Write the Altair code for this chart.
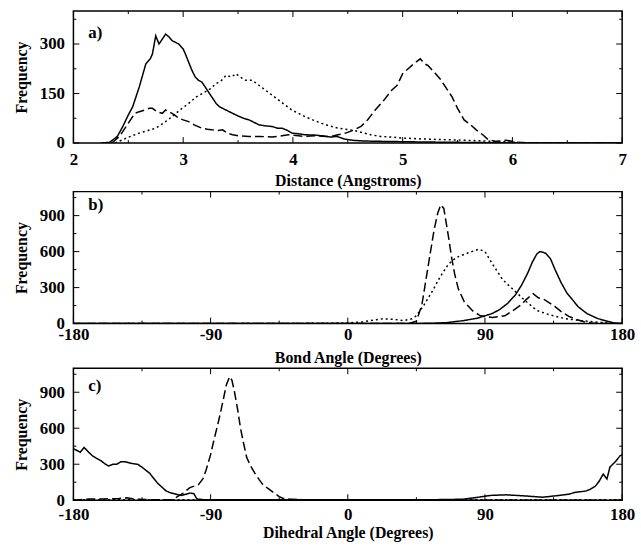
import altair as alt
import pandas as pd

FONT = "Liberation Serif"

# ---------------- Panel a: Distance ----------------
a_solid_x = [2.25, 2.33, 2.40, 2.45, 2.50, 2.54, 2.60, 2.66, 2.70, 2.72, 2.75, 2.78, 2.81, 2.84, 2.87, 2.90, 2.93, 2.96,
             3.00, 3.02, 3.05, 3.08, 3.11, 3.14, 3.17, 3.20, 3.23, 3.26, 3.30, 3.33, 3.36, 3.39, 3.42, 3.45, 3.50,
             3.55, 3.60, 3.65, 3.69, 3.75, 3.81, 3.86, 3.90, 3.95, 3.99, 4.05, 4.11, 4.20, 4.26, 4.35, 4.40, 4.47,
             4.55, 4.65, 4.80, 5.00, 5.20, 5.50, 5.80, 6.00, 7.00]
a_solid_y = [0, 2, 20, 50, 85, 110, 170, 240, 255, 270, 325, 300, 315, 330, 322, 310, 305, 300,
             285, 270, 245, 220, 200, 190, 185, 170, 155, 140, 120, 110, 105, 100, 95, 90, 82,
             75, 70, 62, 55, 52, 50, 45, 45, 38, 30, 28, 25, 24, 22, 18, 20, 12,
             8, 6, 5, 4, 3, 2, 1, 0, 0]

a_dash_x = [2.35, 2.42, 2.48, 2.52, 2.56, 2.60, 2.65, 2.69, 2.72, 2.76, 2.81, 2.84, 2.87, 2.92, 2.96, 3.00, 3.05,
            3.10, 3.17, 3.22, 3.26, 3.32, 3.36, 3.40, 3.45, 3.50, 3.60, 3.70, 3.81, 3.90, 3.96, 4.05, 4.11, 4.20,
            4.30, 4.35, 4.41, 4.48, 4.56, 4.62, 4.68, 4.75, 4.83, 4.90, 4.95, 5.00, 5.05, 5.10, 5.16, 5.20, 5.23,
            5.30, 5.34, 5.40, 5.45, 5.50, 5.56, 5.62, 5.67, 5.73, 5.78, 5.85, 5.95, 6.05, 6.20, 7.00]
a_dash_y = [0, 20, 50, 70, 90, 95, 100, 105, 105, 95, 90, 100, 95, 85, 75, 70, 65,
            55, 45, 42, 40, 38, 40, 30, 25, 22, 20, 20, 18, 22, 25, 22, 20, 22,
            20, 20, 25, 30, 40, 50, 70, 100, 130, 160, 175, 210, 225, 240, 255, 240, 235,
            210, 195, 165, 140, 105, 70, 55, 40, 25, 10, 5, 8, 2, 0, 0]

a_dot_x = [2.38, 2.45, 2.52, 2.60, 2.68, 2.75, 2.82, 2.90, 2.97, 3.05, 3.12, 3.20, 3.25, 3.30, 3.35, 3.39, 3.44,
           3.48, 3.52, 3.57, 3.63, 3.69, 3.75, 3.81, 3.87, 3.93, 3.99, 4.05, 4.11, 4.18, 4.26, 4.33, 4.41, 4.48,
           4.56, 4.63, 4.71, 4.80, 4.90, 5.00, 5.20, 5.40, 5.60, 5.75, 5.90, 6.10, 6.30, 7.00]
a_dot_y = [0, 10, 20, 30, 38, 45, 60, 80, 100, 120, 140, 155, 165, 180, 190, 205, 200,
           210, 200, 190, 190, 175, 160, 145, 130, 115, 100, 90, 80, 70, 60, 52, 45, 42,
           38, 32, 25, 20, 18, 15, 12, 10, 8, 6, 4, 1, 0, 0]

# ---------------- Panel b: Bond angle ----------------
b_solid_x = [-180, 40, 55, 65, 76, 85, 90, 95, 100, 105, 110, 114, 118, 121, 124, 126, 128, 130, 133, 136, 140,
             144, 148, 151, 157, 164, 170, 175, 180]
b_solid_y = [0, 0, 3, 8, 25, 45, 65, 85, 120, 170, 240, 320, 420, 510, 580, 600, 595, 585, 540, 450, 340,
             250, 190, 142, 83, 42, 20, 5, 0]

b_dash_x = [-180, 40, 45, 48.6, 52.6, 56.6, 59, 61, 63, 66, 68, 70, 72.5, 76.5, 82, 87, 95, 103, 108, 113.6,
            117, 121.6, 125, 129, 136, 140, 145, 150, 155, 160, 165, 180]
b_dash_y = [0, 0, 20, 155, 470, 780, 920, 990, 960, 730, 560, 420, 290, 180, 105, 65, 50, 65, 105, 155,
            200, 250, 215, 200, 142, 100, 60, 35, 15, 5, 0, 0]

b_dot_x = [-180, -20, 0, 10, 23, 30, 37, 42, 45, 50, 55, 60.6, 66, 71, 79, 86, 90, 95, 101.7, 108, 116, 124,
           132, 143, 153, 164, 172, 180]
b_dot_y = [0, 2, 5, 15, 40, 35, 25, 40, 65, 155, 260, 390, 495, 550, 590, 620, 600, 495, 365, 290, 195, 110,
           75, 40, 25, 12, 3, 0]

# ---------------- Panel c: Dihedral angle ----------------
c_solid_x = [-180, -177, -175.5, -173, -170, -167.5, -165, -162, -159, -157, -154, -151.5, -149, -146, -143,
             -141, -138, -135.5, -133, -130, -127.5, -125, -122, -119.5, -117, -114, -111, -109, -106, -103.6,
             -101, -99, -95, -50, 0, 50, 75, 83, 93.5, 104, 117, 128, 138.7, 145, 149, 156, 159, 162.5, 165,
             167.6, 170, 172, 175.4, 178.6, 180]
c_solid_y = [430, 410, 400, 440, 400, 370, 350, 330, 300, 285, 300, 300, 320, 320, 310,
             305, 300, 280, 255, 225, 185, 145, 110, 80, 65, 55, 45, 40, 50, 60,
             55, 10, 5, 5, 3, 3, 8, 20, 40, 45, 35, 25, 40, 50, 65, 76, 90, 118, 160,
             218, 176, 277, 319, 370, 380]

c_dash_x = [-180, -170, -160, -150, -145, -140, -130, -115, -108, -103.6, -98, -95, -93, -90, -87.6, -85.5,
            -83.6, -81.5, -79.6, -77.5, -76, -74.3, -72.3, -70.3, -68.3, -66.3, -63.5, -61, -58, -55.7, -51.5,
            -47.7, -45, -42.4, -38, -30, 0, 180]
c_dash_y = [0, 10, 10, 15, 20, 10, 5, 5, 60, 105, 130, 180, 250, 380, 515, 620,
            725, 850, 965, 1030, 1000, 900, 760, 595, 470, 355, 280, 225, 170, 130, 90,
            55, 30, 15, 10, 5, 0, 0]

c_dot_x = [-180, -120, -90, -60, 0, 60, 120, 180]
c_dot_y = [3, 5, 2, 3, 2, 3, 5, 3]

# ---------------- Tick values and labels ----------------
a_x_major = [2, 3, 4, 5, 6, 7]
a_x_minor = [2.5, 3.5, 4.5, 5.5, 6.5]
a_y_major = [0, 150, 300]
a_y_minor = [75, 225, 375]
ang_x_major = [-180, -90, 0, 90, 180]
ang_x_minor = [-135, -45, 45, 135]
ang_y_major = [0, 300, 600, 900]
ang_y_minor = [150, 450, 750, 1050]

panel_tags = ["a)", "b)", "c)"]
x_titles = ["Distance (Angstroms)", "Bond Angle (Degrees)", "Dihedral Angle (Degrees)"]
y_title = "Frequency"
series_names = ["solid", "dashed", "dotted"]

W, H = 553, 133


def long_df(pairs):
    rows = []
    for name, (xs, ys) in zip(series_names, pairs):
        for x, y in zip(xs, ys):
            rows.append({"x": x, "y": y, "series": name})
    return pd.DataFrame(rows)


def make_panel(df, xdom, ydom, xmaj, xmin, ymaj, ymin, xtitle, tag, tag_y, label_pad, title_pad):
    xs = alt.Scale(domain=xdom, nice=False, zero=False)
    ys = alt.Scale(domain=ydom, nice=False)
    xaxis = alt.Axis(values=xmaj, labelExpr="'' + datum.value", ticks=False, domain=False,
                     grid=False, labelPadding=label_pad, titlePadding=title_pad,
                     labelFlush=False, labelOverlap=False)
    yaxis = alt.Axis(values=ymaj, ticks=False, domain=False, grid=False,
                     labelPadding=9, titlePadding=10, labelOverlap=False)
    lines = alt.Chart(df).mark_line(color="black", strokeWidth=1.5, clip=True).encode(
        x=alt.X("x:Q", scale=xs, title=xtitle, axis=xaxis),
        y=alt.Y("y:Q", scale=ys, title=y_title, axis=yaxis),
        strokeDash=alt.StrokeDash("series:N",
                                  scale=alt.Scale(domain=series_names, range=[[1, 0], [9, 4], [2, 3]]),
                                  legend=None),
        detail="series:N",
        order="x:Q",
    )
    layers = [lines]

    def xt(vals, ln):
        d = pd.DataFrame({"x": vals})
        base = alt.Chart(d).mark_rule(color="black", strokeWidth=1)
        enc_x = alt.X("x:Q", scale=xs, title=xtitle, axis=xaxis)
        bot = base.encode(x=enc_x, y=alt.value(H), y2=alt.value(H - ln))
        top = base.encode(x=enc_x, y=alt.value(0), y2=alt.value(ln))
        return [bot, top]

    def yt(vals, ln):
        d = pd.DataFrame({"y": vals})
        base = alt.Chart(d).mark_rule(color="black", strokeWidth=1)
        enc_y = alt.Y("y:Q", scale=ys, title=y_title, axis=yaxis)
        left = base.encode(y=enc_y, x=alt.value(0), x2=alt.value(ln))
        right = base.encode(y=enc_y, x=alt.value(W), x2=alt.value(W - ln))
        return [left, right]

    layers += xt(xmaj, 6) + xt(xmin, 3) + yt(ymaj, 6) + yt(ymin, 3)
    label = alt.Chart(pd.DataFrame({"tag": [tag]})).mark_text(
        align="left", baseline="middle", font=FONT, fontSize=17, fontWeight="bold", color="black"
    ).encode(x=alt.value(15), y=alt.value(tag_y), text="tag:N")
    layers.append(label)
    return alt.layer(*layers).properties(width=W, height=H)


pa = make_panel(long_df([(a_solid_x, a_solid_y), (a_dash_x, a_dash_y), (a_dot_x, a_dot_y)]),
                [2, 7], [0, 400], a_x_major, a_x_minor, a_y_major, a_y_minor,
                x_titles[0], panel_tags[0], 22, 9, 5)
pb = make_panel(long_df([(b_solid_x, b_solid_y), (b_dash_x, b_dash_y), (b_dot_x, b_dot_y)]),
                [-180, 180], [0, 1100], ang_x_major, ang_x_minor, ang_y_major, ang_y_minor,
                x_titles[1], panel_tags[1], 14, 3, 7)
pc = make_panel(long_df([(c_solid_x, c_solid_y), (c_dash_x, c_dash_y), (c_dot_x, c_dot_y)]),
                [-180, 180], [0, 1100], ang_x_major, ang_x_minor, ang_y_major, ang_y_minor,
                x_titles[2], panel_tags[2], 18, 6, 3)

chart = alt.vconcat(pa, pb, pc, spacing=0).properties(
    padding={"left": 12, "top": 7, "right": 5, "bottom": 0},
    background="white",
).configure_axis(
    labelFont=FONT, labelFontSize=17, labelFontWeight="bold", labelColor="black",
    titleFont=FONT, titleFontSize=16, titleFontWeight="bold", titleColor="black",
).configure_view(stroke="black", strokeWidth=1.5)

chart.save("out.html", embed_options={"renderer": "svg", "actions": False})
